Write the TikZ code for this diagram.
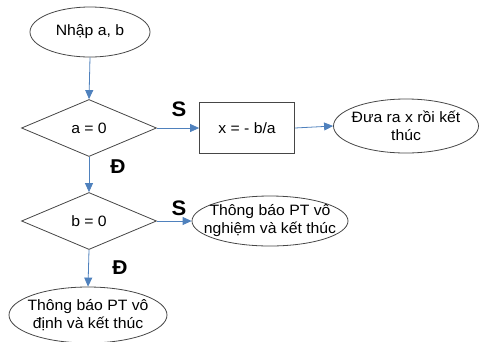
\documentclass[tikz,border=0pt]{standalone}
\usepackage{fontspec}
\setmainfont{Liberation Sans}[FakeStretch=1.05]
\usetikzlibrary{shapes.geometric,arrows.meta}
\definecolor{flowblue}{RGB}{79,129,189}
\definecolor{edgegray}{RGB}{70,70,70}
\tikzset{
  txt/.style={font=\fontsize{15}{18}\selectfont, align=center, inner sep=0pt},
  term/.style 2 args={ellipse, draw=edgegray, line width=0.8pt,
    minimum width=#1, minimum height=#2, inner sep=0pt},
  decide/.style={diamond, draw=edgegray, line width=0.8pt, aspect=2.4,
    minimum width=135pt, minimum height=57pt, inner sep=0pt, txt},
  proc/.style={rectangle, draw=edgegray, line width=0.8pt,
    minimum width=95pt, minimum height=51pt, inner sep=0pt, txt},
  flow/.style={flowblue, line width=0.8pt, -{Triangle[length=9pt,width=8pt]}},
  tag/.style={font=\fontsize{21}{21}\selectfont\bfseries, inner sep=0pt},
  ytag/.style={font=\fontsize{20}{20}\selectfont\bfseries, inner sep=0pt}
}
\begin{document}
\begin{tikzpicture}[x=1pt,y=-1pt]
\useasboundingbox (0,0) rectangle (481,341);

% shapes
\node[term={120pt}{50pt}, label={[txt]center:Nhập a, b}] (start) at (90,32) {};
\node[decide] (d1) at (89,128) {a = 0};
\node[proc] (r1) at (247,128) {x = - b/a};
\node[term={145pt}{54pt}, label={[txt]center:{Đưa ra x rồi kết\\thúc}}] (e1) at (406,126) {};
\node[decide] (d2) at (89,221) {b = 0};
\node[term={156pt}{50pt}, label={[txt]center:{Thông báo PT vô\\nghiệm và kết thúc}}] (e2) at (270,221) {};
\node[term={158pt}{56pt}, label={[txt]center:{Thông báo PT vô\\định và kết thúc}}] (e3) at (88,315) {};

% connectors
\draw[flow] (start.south) -- (d1.north);
\draw[flow] (d1.east) -- (r1.west);
\draw[flow] (r1.east) -- (e1.west);
\draw[flow] (d1.south) -- (d2.north);
\draw[flow] (d2.east) -- (e2.west);
\draw[flow] (d2.south) -- (e3.north);

% branch tags
\node[tag] (s1) at (179,109) {S};
\node[tag] (s2) at (179,208) {S};
\node[ytag] (t1) at (118,167) {Đ};
\node[ytag] (t2) at (120,268) {Đ};
\end{tikzpicture}
\end{document}
